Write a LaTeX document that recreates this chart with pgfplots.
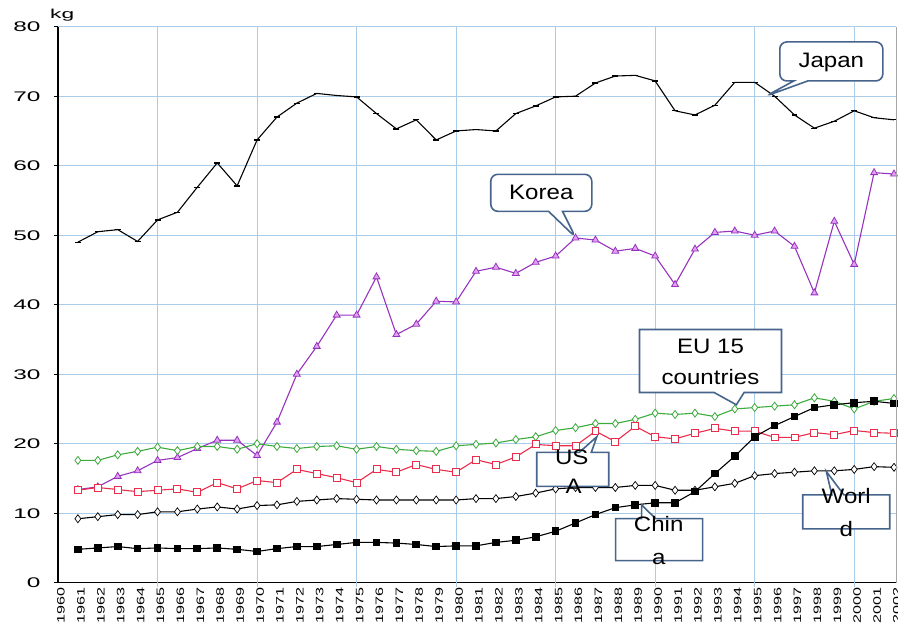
\documentclass[border=0pt]{standalone}
\usepackage{pgfplots}
\pgfplotsset{compat=1.18}
\usepackage{fontspec}
\setmainfont{Liberation Sans}
\newfontfamily\ylabfont[FakeStretch=1.75]{Liberation Sans}
\newfontfamily\xlabfont[FakeStretch=1.5]{Liberation Sans}
\newfontfamily\callfont[FakeStretch=1.15]{Liberation Sans}
\usetikzlibrary{shapes.callouts}
\definecolor{gridc}{RGB}{170,204,232}
\definecolor{kor}{RGB}{150,50,190}
\definecolor{korfill}{RGB}{225,160,240}
\definecolor{usa}{RGB}{235,45,75}
\definecolor{eu}{RGB}{60,170,60}
\definecolor{cb}{RGB}{70,100,140}
\begin{document}
\begin{tikzpicture}
\begin{axis}[name=main, at={(0,0)}, anchor=south west, scale only axis,
  width=838bp, height=556bp,
  xmin=1960, xmax=2002.1, ymin=0, ymax=80,
  clip mode=individual,
  axis x line*=bottom, axis y line*=left,
  axis line style={black, line width=1.3pt},
  xtick={1960,1961,1962,1963,1964,1965,1966,1967,1968,1969,1970,1971,1972,1973,1974,1975,1976,1977,1978,1979,1980,1981,1982,1983,1984,1985,1986,1987,1988,1989,1990,1991,1992,1993,1994,1995,1996,1997,1998,1999,2000,2001,2002},
  xticklabels={1960,1961,1962,1963,1964,1965,1966,1967,1968,1969,1970,1971,1972,1973,1974,1975,1976,1977,1978,1979,1980,1981,1982,1983,1984,1985,1986,1987,1988,1989,1990,1991,1992,1993,1994,1995,1996,1997,1998,1999,2000,2001,2002},
  xtick style={draw=none},
  xticklabel style={rotate=90, anchor=east, font=\xlabfont\fontsize{10.8}{10.8}\selectfont, inner sep=1bp, yshift=-3bp},
  extra x ticks={1965,1970,1975,1980,1985,1990,1995,2000},
  extra x tick labels={},
  extra x tick style={grid=major, xtick style={draw=gridc, line width=1pt}},
  ytick={0,10,20,30,40,50,60,70,80},
  yticklabels={0,10,20,30,40,50,60,70,80},
  yticklabel style={anchor=east, font=\ylabfont\fontsize{14}{14}\selectfont, xshift=-10bp},
  ymajorgrids,
  grid style={gridc, line width=1pt},
  ytick style={black, line width=1pt},
  tick align=outside, major tick length=4bp,
]
% Japan
\addplot[black, line width=1.1pt, mark=-, mark size=3pt, mark options={line width=1.3pt}] coordinates {
(1961,49.0)(1962,50.5)(1963,50.8)(1964,49.1)(1965,52.2)(1966,53.3)(1967,56.9)(1968,60.4)(1969,57.1)(1970,63.7)
(1971,67.0)(1972,69.0)(1973,70.4)(1974,70.1)(1975,69.9)(1976,67.5)(1977,65.3)(1978,66.6)(1979,63.7)(1980,65.0)
(1981,65.2)(1982,65.0)(1983,67.5)(1984,68.6)(1985,69.9)(1986,70.0)(1987,71.9)(1988,72.9)(1989,73.0)(1990,72.2)
(1991,67.9)(1992,67.3)(1993,68.7)(1994,72.0)(1995,72.0)(1996,70.0)(1997,67.3)(1998,65.4)(1999,66.4)(2000,67.9)
(2001,66.9)(2002,66.6)};
% Korea
\addplot[kor, line width=1.1pt, mark=triangle*, mark size=4pt, mark options={fill=korfill, draw=kor, line width=0.8pt}] coordinates {
(1961,13.4)(1962,13.8)(1963,15.3)(1964,16.1)(1965,17.6)(1966,18.0)(1967,19.3)(1968,20.5)(1969,20.5)(1970,18.3)
(1971,23.1)(1972,30.0)(1973,34.0)(1974,38.5)(1975,38.5)(1976,44.0)(1977,35.7)(1978,37.2)(1979,40.5)(1980,40.4)
(1981,44.8)(1982,45.4)(1983,44.5)(1984,46.1)(1985,47.0)(1986,49.6)(1987,49.3)(1988,47.7)(1989,48.1)(1990,47.0)
(1991,42.9)(1992,48.0)(1993,50.4)(1994,50.6)(1995,50.0)(1996,50.6)(1997,48.4)(1998,41.7)(1999,52.0)(2000,45.8)
(2001,59.0)(2002,58.8)};
% EU 15
\addplot[eu, line width=1.1pt, mark=diamond*, mark size=4pt, mark options={fill=white, draw=eu, line width=0.8pt}] coordinates {
(1961,17.6)(1962,17.6)(1963,18.4)(1964,18.9)(1965,19.5)(1966,19.0)(1967,19.6)(1968,19.6)(1969,19.2)(1970,20.0)
(1971,19.6)(1972,19.3)(1973,19.6)(1974,19.7)(1975,19.2)(1976,19.6)(1977,19.2)(1978,19.0)(1979,18.9)(1980,19.7)
(1981,19.9)(1982,20.1)(1983,20.6)(1984,21.0)(1985,21.9)(1986,22.3)(1987,22.9)(1988,22.9)(1989,23.5)(1990,24.4)
(1991,24.2)(1992,24.4)(1993,23.9)(1994,25.0)(1995,25.2)(1996,25.4)(1997,25.6)(1998,26.6)(1999,26.1)(2000,25.0)
(2001,26.1)(2002,26.5)};
% USA
\addplot[usa, line width=1.1pt, mark=square*, mark size=3.5pt, mark options={fill=white, draw=usa, line width=0.9pt}] coordinates {
(1961,13.3)(1962,13.7)(1963,13.4)(1964,13.1)(1965,13.3)(1966,13.5)(1967,13.0)(1968,14.4)(1969,13.5)(1970,14.7)
(1971,14.4)(1972,16.3)(1973,15.7)(1974,15.1)(1975,14.4)(1976,16.3)(1977,15.9)(1978,17.0)(1979,16.3)(1980,15.9)
(1981,17.7)(1982,17.0)(1983,18.1)(1984,19.9)(1985,19.7)(1986,19.7)(1987,21.8)(1988,20.3)(1989,22.5)(1990,21.0)
(1991,20.7)(1992,21.5)(1993,22.2)(1994,21.8)(1995,21.8)(1996,20.9)(1997,20.9)(1998,21.6)(1999,21.3)(2000,21.9)
(2001,21.6)(2002,21.5)};
% World
\addplot[black, line width=1.1pt, mark=diamond*, mark size=4pt, mark options={fill=white, draw=black, line width=0.7pt}] coordinates {
(1961,9.2)(1962,9.5)(1963,9.8)(1964,9.8)(1965,10.2)(1966,10.2)(1967,10.6)(1968,10.9)(1969,10.6)(1970,11.1)
(1971,11.2)(1972,11.7)(1973,11.9)(1974,12.1)(1975,12.0)(1976,11.9)(1977,11.9)(1978,11.9)(1979,11.9)(1980,11.9)
(1981,12.1)(1982,12.1)(1983,12.4)(1984,12.9)(1985,13.5)(1986,13.7)(1987,13.7)(1988,13.7)(1989,14.0)(1990,14.0)
(1991,13.3)(1992,13.3)(1993,13.8)(1994,14.3)(1995,15.4)(1996,15.7)(1997,15.9)(1998,16.1)(1999,16.1)(2000,16.3)
(2001,16.7)(2002,16.6)};
% China
\addplot[black, line width=1.1pt, mark=square*, mark size=3.3pt, mark options={fill=black}] coordinates {
(1961,4.8)(1962,5.0)(1963,5.2)(1964,4.9)(1965,5.0)(1966,4.9)(1967,4.9)(1968,5.0)(1969,4.8)(1970,4.5)
(1971,4.9)(1972,5.2)(1973,5.2)(1974,5.5)(1975,5.8)(1976,5.8)(1977,5.7)(1978,5.5)(1979,5.2)(1980,5.3)
(1981,5.3)(1982,5.8)(1983,6.1)(1984,6.6)(1985,7.4)(1986,8.6)(1987,9.8)(1988,10.8)(1989,11.2)(1990,11.5)
(1991,11.5)(1992,13.1)(1993,15.7)(1994,18.2)(1995,21.0)(1996,22.6)(1997,23.9)(1998,25.2)(1999,25.6)(2000,25.9)
(2001,26.1)(2002,25.8)};

% callout pointer tips
\coordinate (pJ) at (axis cs:1995.55,70.0);
\coordinate (pK) at (axis cs:1986.0,49.7);
\coordinate (pE) at (axis cs:1994.08,25.6);
\coordinate (pU) at (axis cs:1987.07,21.0);
\coordinate (pC) at (axis cs:1989.32,11.2);
\coordinate (pW) at (axis cs:1998.6,16.0);

\node[rectangle callout, rounded corners=7bp, draw=cb, line width=1.6pt, fill=white, inner sep=0pt,
  minimum width=103bp, minimum height=39bp, callout absolute pointer={(pJ)}, callout pointer width=14bp] at (axis cs:1998.85,75.0) {};
\node[font=\callfont\fontsize{21}{21}\selectfont] at (axis cs:1998.85,74.9) {Japan};

\node[rectangle callout, rounded corners=7bp, draw=cb, line width=1.6pt, fill=white, inner sep=0pt,
  minimum width=101bp, minimum height=37bp, callout absolute pointer={(pK)}, callout pointer width=14bp] at (axis cs:1984.28,56.1) {};
\node[font=\callfont\fontsize{21}{21}\selectfont] at (axis cs:1984.28,56.1) {Korea};

\node[rectangle callout, draw=cb, line width=1.6pt, fill=white, inner sep=0pt,
  minimum width=142bp, minimum height=63bp, callout absolute pointer={(pE)}, callout pointer width=30bp] at (axis cs:1992.78,31.9) {};
\node[font=\callfont\fontsize{21}{21}\selectfont] at (axis cs:1992.78,34.0) {EU 15};
\node[font=\callfont\fontsize{21}{21}\selectfont] at (axis cs:1992.78,29.6) {countries};

\node[rectangle callout, draw=cb, line width=1.6pt, fill=white, inner sep=0pt,
  minimum width=72bp, minimum height=34bp, callout absolute pointer={(pU)}, callout pointer width=12bp] at (axis cs:1985.86,16.3) {};
\node[font=\callfont\fontsize{21}{21}\selectfont] at (axis cs:1985.81,18.1) {US};
\node[font=\callfont\fontsize{21}{21}\selectfont] at (axis cs:1985.91,13.9) {A};

\node[rectangle callout, draw=cb, line width=1.6pt, fill=white, inner sep=0pt,
  minimum width=87bp, minimum height=42bp, callout absolute pointer={(pC)}, callout pointer width=14bp] at (axis cs:1990.2,6.2) {};
\node[font=\callfont\fontsize{21}{21}\selectfont] at (axis cs:1990.18,8.4) {Chin};
\node[font=\callfont\fontsize{21}{21}\selectfont] at (axis cs:1990.18,3.4) {a};

\node[rectangle callout, draw=cb, line width=1.6pt, fill=white, inner sep=0pt,
  minimum width=87bp, minimum height=34bp, callout absolute pointer={(pW)}, callout pointer width=12bp] at (axis cs:1999.6,10.2) {};
\node[font=\callfont\fontsize{21}{21}\selectfont] at (axis cs:1999.6,12.4) {Worl};
\node[font=\callfont\fontsize{21}{21}\selectfont] at (axis cs:1999.6,7.7) {d};
\end{axis}
\draw[gray!70, line width=0.8pt] (main.south east) -- (main.north east);
\node[anchor=base west, font=\ylabfont\fontsize{13}{13}\selectfont, inner sep=0pt] at ([xshift=-8bp,yshift=8bp]main.north west) {kg};
\pgfresetboundingbox
\path ([xshift=-58bp,yshift=-43.3bp]main.south west) rectangle ([xshift=2bp,yshift=26.7bp]main.north east);
\end{tikzpicture}
\end{document}
